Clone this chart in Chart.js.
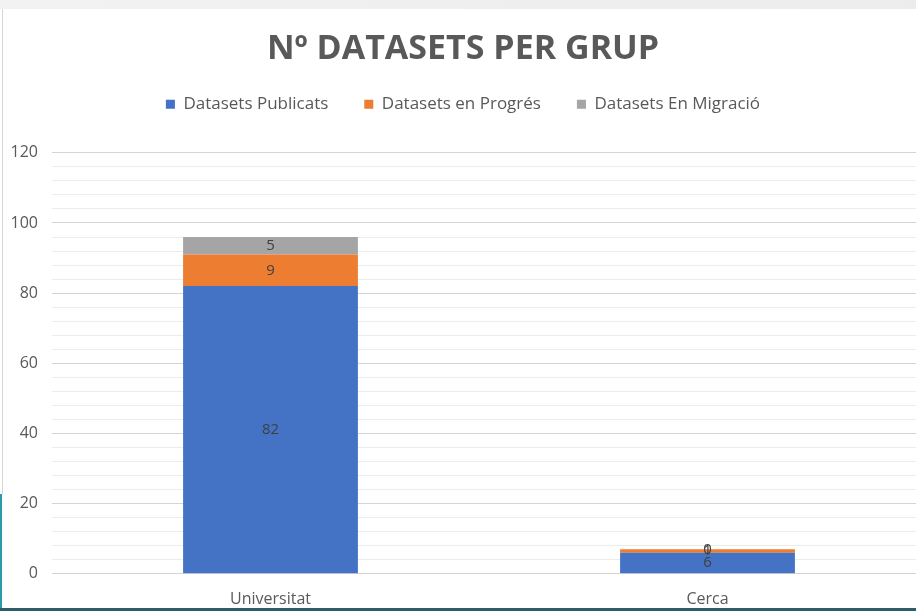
<!DOCTYPE html>
<html lang="ca">
<head>
  <meta charset="UTF-8" />
  <title>Nº Datasets per grup</title>
  <script src="https://cdn.jsdelivr.net/npm/chart.js"></script>
  <style>
    body {
      margin: 0;
      background: #ffffff;
      overflow: hidden;
      width: 916px;
      height: 611px;
      position: relative;
    }
    .topband {
      position: absolute; left: 0; top: 0; width: 916px; height: 9px;
      background: linear-gradient(to right, #f2f2f2, #ececec);
    }
    .leftline {
      position: absolute; left: 2px; top: 9px; width: 1px; height: 485px;
      background: #d6d6d6;
    }
    .leftteal {
      position: absolute; left: 0; top: 494px; width: 2px; height: 117px;
      background: #2a9aa8;
    }
    .bottomline {
      position: absolute; left: 0; top: 608px; width: 916px; height: 3px;
      background: #2d5e68;
    }
    canvas { display: block; }
  </style>
</head>
<body>
<canvas id="grupChart" width="926" height="611"></canvas>
<div class="topband"></div>
<div class="leftline"></div>
<div class="leftteal"></div>
<div class="bottomline"></div>
<script>
const grups = ["Universitat", "Cerca"];
const publicats = [82, 6];
const enProgres = [9, 1];
const enMigracio = [5, 0];

const textGrey = "#595959";
const font = "'Open Sans', 'DejaVu Sans', sans-serif";

// value labels in the middle of each segment
const segmentLabels = {
  id: "segmentLabels",
  afterDatasetsDraw(chart) {
    const ctx = chart.ctx;
    ctx.save();
    ctx.font = "15px " + font;
    ctx.fillStyle = "#404040";
    ctx.textAlign = "center";
    ctx.textBaseline = "middle";
    chart.data.datasets.forEach((ds, i) => {
      chart.getDatasetMeta(i).data.forEach((bar, j) => {
        ctx.fillText(ds.data[j], bar.x, (bar.y + bar.base) / 2);
      });
    });
    ctx.restore();
  }
};

// legend gets a fixed height so the plot starts where it should
const legendHeight = {
  id: "legendHeight",
  beforeInit(chart) {
    const fit = chart.legend.fit;
    chart.legend.fit = function () {
      fit.bind(chart.legend)();
      this.height = 93;
    };
  }
};

new Chart(document.getElementById("grupChart"), {
  type: "bar",
  data: {
    labels: grups,
    datasets: [
      { label: "Datasets Publicats", data: publicats, backgroundColor: "#4472C4" },
      { label: "Datasets en Progrés", data: enProgres, backgroundColor: "#ED7D31" },
      { label: "Datasets En Migració", data: enMigracio, backgroundColor: "#A5A5A5" }
    ]
  },
  options: {
    responsive: false,
    animation: false,
    layout: { padding: { left: 0, right: 0, top: 0, bottom: -6 } },
    datasets: { bar: { barPercentage: 0.4, categoryPercentage: 1 } },
    plugins: {
      title: {
        display: true,
        text: "Nº DATASETS PER GRUP",
        color: textGrey,
        font: { family: font, size: 34, weight: "bold" },
        padding: { top: 29, bottom: -10 }
      },
      legend: {
        position: "top",
        labels: {
          color: textGrey,
          font: { family: font, size: 17 },
          boxWidth: 9,
          boxHeight: 9,
          padding: 36
        }
      },
      tooltip: { enabled: false }
    },
    scales: {
      x: {
        stacked: true,
        grid: { display: false },
        border: { display: false },
        ticks: { color: textGrey, font: { family: font, size: 16 }, padding: 8 }
      },
      y: {
        stacked: true,
        min: 0,
        max: 120,
        afterFit(scale) { scale.width = 52; },
        border: { display: false },
        grid: {
          drawTicks: false,
          color: c => (c.tick.value % 20 === 0 ? "#d4d4d4" : "#ececec")
        },
        ticks: {
          stepSize: 4,
          autoSkip: false,
          padding: 14,
          color: textGrey,
          font: { family: font, size: 16 },
          callback: v => (v % 20 === 0 ? v : "")
        }
      }
    }
  },
  plugins: [segmentLabels, legendHeight]
});
</script>
</body>
</html>
